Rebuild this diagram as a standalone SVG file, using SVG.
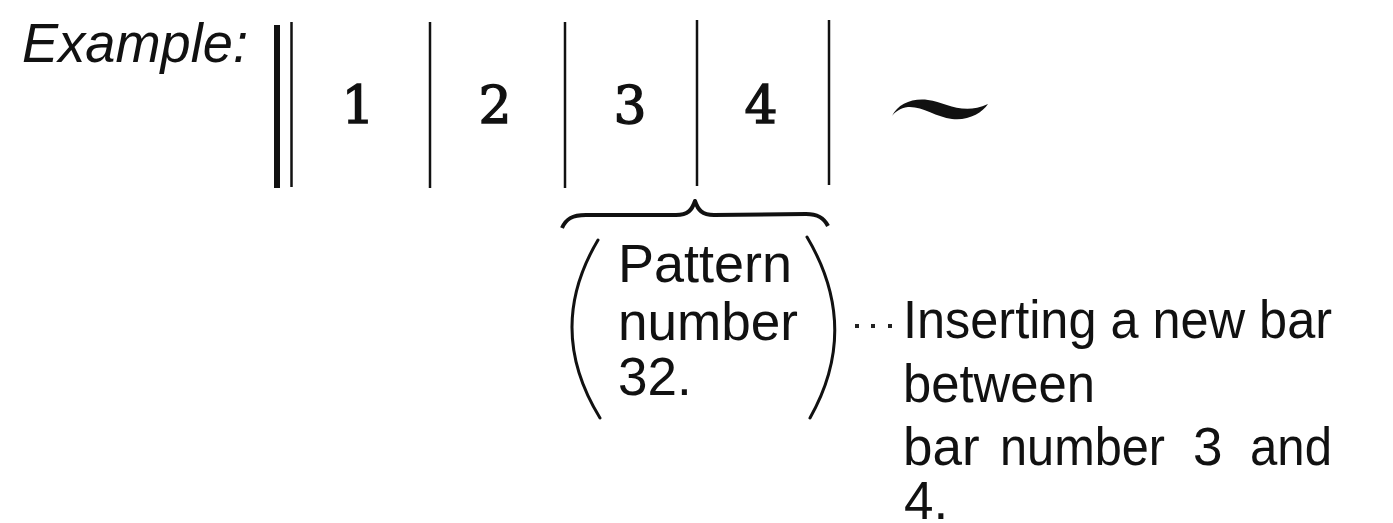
<svg xmlns="http://www.w3.org/2000/svg" width="1393" height="523" viewBox="0 0 1393 523">
  <style>
    .sans { font-family: "Liberation Sans", Arial, sans-serif; fill: #111; }
    .num { font-family: "DejaVu Serif", "Liberation Serif", serif; font-size: 52px; fill: #111; stroke: #111; stroke-width: 1.4; text-anchor: middle; }
    .bar { stroke: #111; fill: none; }
    .paren { stroke: #111; stroke-width: 3; fill: none; stroke-linecap: round; }
    .dot { fill: #222; }
  </style>
  <rect width="1393" height="523" fill="#ffffff"/>

  <g id="label-example">
    <text class="sans" x="22" y="62" font-size="55" font-style="italic" textLength="226" lengthAdjust="spacingAndGlyphs">Example:</text>
  </g>

  <g id="staff">
    <line class="bar" x1="277" y1="25" x2="277" y2="188" stroke-width="6"/>
    <line class="bar" x1="291.5" y1="22" x2="291.5" y2="187" stroke-width="2.5"/>
    <line class="bar" x1="430" y1="22" x2="430" y2="188" stroke-width="2.5"/>
    <line class="bar" x1="565" y1="22" x2="565" y2="188" stroke-width="2.5"/>
    <line class="bar" x1="697" y1="20" x2="697" y2="186" stroke-width="2.5"/>
    <line class="bar" x1="829" y1="20" x2="829" y2="185" stroke-width="2.5"/>
  </g>

  <g id="bar-1"><text class="num" x="358" y="123">1</text></g>
  <g id="bar-2"><text class="num" x="495" y="123">2</text></g>
  <g id="bar-3"><text class="num" x="630" y="123">3</text></g>
  <g id="bar-4"><text class="num" x="761" y="123">4</text></g>

  <g id="tilde">
    <path d="M 892 116 C 898 104, 912 98, 928 100 C 946 102, 962 116, 988 104 C 982 113, 968 121, 952 119 C 936 117, 922 106, 908 107 C 900 108, 895 112, 892 116 Z" fill="#111"/>
  </g>

  <g id="brace">
    <path d="M 562 228 C 566 219, 572 215, 586 215 L 676 215 C 688 215, 692 210, 695 201 C 698 210, 702 215, 714 215 L 806 214 C 818 214, 824 218, 828 226" stroke="#111" stroke-width="4" fill="none" stroke-linejoin="round"/>
  </g>

  <g id="pattern-note">
    <path class="paren" d="M 598 240 Q 545 329 600 418"/>
    <path class="paren" d="M 807 237 Q 861 328 810 418"/>
    <text class="sans" font-size="53">
      <tspan x="618" y="282" textLength="174" lengthAdjust="spacingAndGlyphs">Pattern</tspan>
      <tspan x="618" y="340" textLength="180" lengthAdjust="spacingAndGlyphs">number</tspan>
      <tspan x="618" y="395">32.</tspan>
    </text>
  </g>

  <g id="connectors">
    <rect class="dot" x="855" y="324" width="4" height="4"/>
    <rect class="dot" x="871" y="324" width="4" height="4"/>
    <rect class="dot" x="888" y="324" width="4" height="4"/>
  </g>

  <g id="insert-note">
    <text class="sans" font-size="53">
      <tspan x="903" y="338" textLength="429" lengthAdjust="spacingAndGlyphs">Inserting a new bar</tspan>
      <tspan x="903" y="402" textLength="192" lengthAdjust="spacingAndGlyphs">between</tspan>
      <tspan x="903" y="465">bar</tspan>
      <tspan x="1000" y="465" textLength="165" lengthAdjust="spacingAndGlyphs">number</tspan>
      <tspan x="1193" y="465">3</tspan>
      <tspan x="1250" y="465" textLength="82" lengthAdjust="spacingAndGlyphs">and</tspan>
      <tspan x="904" y="519">4.</tspan>
    </text>
  </g>
</svg>
